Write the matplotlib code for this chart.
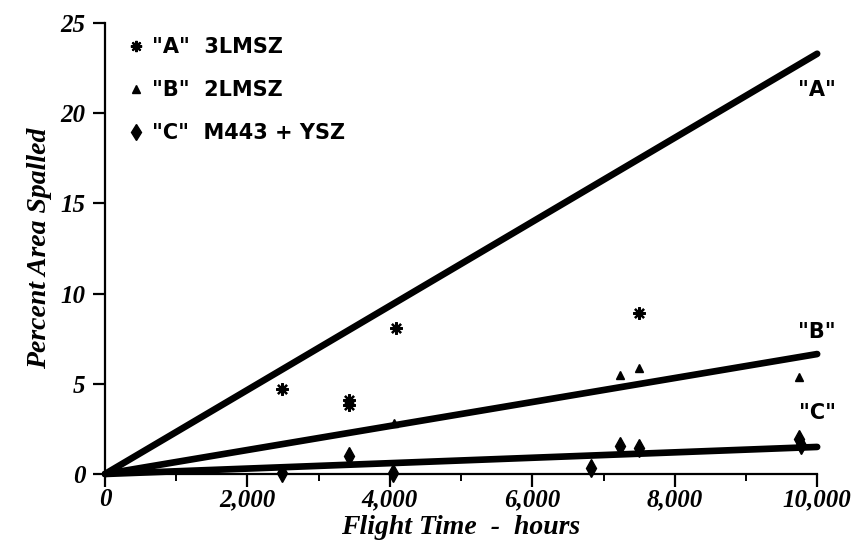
import matplotlib.pyplot as plt
from matplotlib.ticker import MultipleLocator, FuncFormatter

# fitted lines (end value at 10,000 h)
fit_x = [0, 10000]
fit_a = [0, 23.3]
fit_b = [0, 6.65]
fit_c = [0, 1.5]

# measured points
a_x = [2480, 3430, 3430, 4090, 7500]
a_y = [4.7, 3.8, 4.1, 8.1, 8.9]
b_x = [4060, 7230, 7500, 9750, 2480]
b_y = [2.8, 5.5, 5.9, 5.4, 0.3]
c_x = [2480, 3430, 4040, 6830, 7230, 7500, 9750, 9780]
c_y = [0.05, 1.0, 0.05, 0.35, 1.55, 1.45, 1.95, 1.6]

line_labels = ['"A"', '"B"', '"C"']
label_y = [21.3, 7.9, 3.4]

plt.rcParams["font.family"] = "DejaVu Sans"
tick_font = dict(family="Liberation Serif", weight="bold", style="italic", size=18)

fig = plt.figure(figsize=(8.58, 5.56), dpi=100)
ax = fig.add_axes([0.1224, 0.1475, 0.830, 0.811])

for fy in [fit_a, fit_b, fit_c]:
    ax.plot(fit_x, fy, color="black", lw=4.8, solid_capstyle="round")

ax.plot(a_x, a_y, ls="none", marker=(8, 2, 0), ms=9, mew=1.6, color="black",
        label='"A"  3LMSZ')
ax.plot(b_x, b_y, ls="none", marker="^", ms=6, color="black",
        label='"B"  2LMSZ')
ax.plot(c_x, c_y, ls="none", marker="d", ms=9, color="black",
        label='"C"  M443 + YSZ')

for lab, ly in zip(line_labels, label_y):
    ax.text(10000, ly, lab, ha="center", va="center", fontsize=15,
            fontweight="bold", family="DejaVu Sans")

ax.set_xlim(0, 10000)
ax.set_ylim(0, 25)
ax.xaxis.set_major_locator(MultipleLocator(2000))
ax.xaxis.set_minor_locator(MultipleLocator(1000))
ax.yaxis.set_major_locator(MultipleLocator(5))
ax.xaxis.set_major_formatter(FuncFormatter(lambda v, p: f"{int(v):,}"))

for s in ["top", "right"]:
    ax.spines[s].set_visible(False)
for s in ["left", "bottom"]:
    ax.spines[s].set_linewidth(1.6)
ax.tick_params(axis="both", which="major", length=9, width=1.6, direction="out")
ax.tick_params(axis="x", which="minor", length=5, width=1.4, direction="out")
ax.tick_params(axis="x", pad=1)
ax.tick_params(axis="y", pad=5)
for t in ax.get_xticklabels() + ax.get_yticklabels():
    t.set(**tick_font)
for l in ax.lines:
    l.set_clip_on(False)

ax.set_xlabel("Flight Time  -  hours", fontdict=dict(tick_font, size=20),
              labelpad=3)
ax.set_ylabel("Percent Area Spalled", fontdict=dict(tick_font, size=20),
              labelpad=6)

leg = ax.legend(loc="upper left", bbox_to_anchor=(0.01, 1.01), frameon=False,
                handlelength=0.5, handletextpad=0.5, labelspacing=1.1,
                markerscale=0.9,
                prop=dict(weight="bold", size=15))

fig.savefig("out.png", dpi=100)
